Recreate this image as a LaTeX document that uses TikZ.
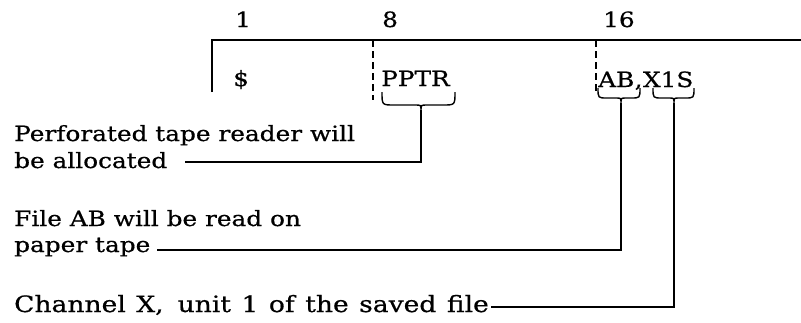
\documentclass[tikz,border=0pt]{standalone}
\usepackage{fontspec}
\setmainfont{DejaVu Serif}[FakeStretch=1.18,FakeBold=0.6]
\begin{document}
\begin{tikzpicture}[x=1pt,y=-1pt,
  txt/.style={font=\fontsize{21}{27}\selectfont, inner sep=0pt, anchor=base west},
  rule/.style={line width=1.4pt},
  dashrule/.style={line width=1.4pt, dash pattern=on 7pt off 4pt},
  lead/.style={line width=1.4pt}]
\useasboundingbox (0,0) rectangle (801,322);
% frame
\draw[rule] (212,92) -- (212,40) -- (801,40);
\draw[dashrule] (373,40) -- (373,100);
\draw[dashrule] (596,40) -- (596,92);
% column numbers
\node[txt] (n1) at (235,27) {1};
\node[txt] (n8) at (382,27) {8};
\node[txt] (n16) at (603,27) {16};
% card fields
\node[txt] (dol) at (233,86) {\$};
\node[txt] (pptr) at (381,86) {PPTR};
\node[txt] (ab) at (598,87) {AB};
\node[txt] (cm) at (ab.base east) {,};
\node[txt] (xs) at (cm.base east) {X1S};
% braces
\draw[rule] (382,92) .. controls (382,105) .. (394,105) -- (415,105)
  .. controls (421,105) .. (421,110) .. controls (421,105) .. (427,105)
  -- (443,105) .. controls (455,105) .. (455,92);
\coordinate (t1) at (421,110);
\draw[rule] (598,88) .. controls (598,98) .. (607,98) -- (616,98)
  .. controls (621,98) .. (621,103) .. controls (621,98) .. (626,98)
  -- (631,98) .. controls (640,98) .. (640,88);
\coordinate (t2) at (621,103);
\draw[rule] (653,88) .. controls (653,98) .. (662,98) -- (669,98)
  .. controls (674,98) .. (674,103) .. controls (674,98) .. (679,98)
  -- (685,98) .. controls (694,98) .. (694,88);
\coordinate (t3) at (674,103);
% explanations
\node[txt] (pa1) at (14,141) {Perforated tape reader will};
\node[txt] (pa2) at (14,168) {be allocated};
\node[txt] (fa1) at (14,226) {File AB will be read on};
\node[txt] (fa2) at (14,252) {paper tape};
\node[txt, font=\fontsize{22.5}{27}\selectfont] (ch) at (14,312) {\spaceskip=10.5pt Channel X,\hspace{14pt}unit 1 of the saved file};
\path (pa2.base east) ++(18,-6) coordinate (e1);
\path (fa2.base east) ++(6,-2) coordinate (e2);
\path (ch.base east) ++(2,-5) coordinate (e3);
\draw[lead] (t1) |- (e1);
\draw[lead] (t2) |- (e2);
\draw[lead] (t3) |- (e3);
\end{tikzpicture}
\end{document}
